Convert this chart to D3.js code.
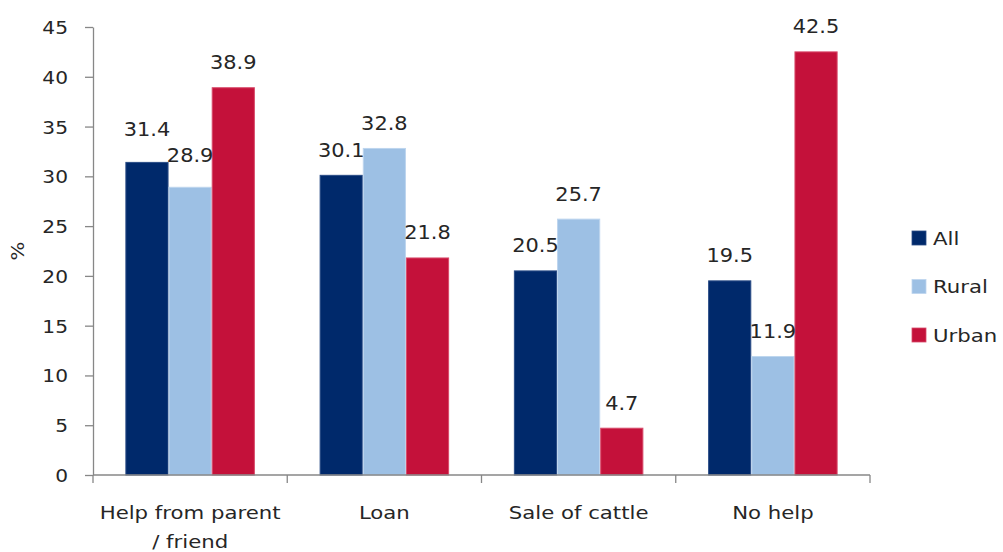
<!DOCTYPE html>
<html>
<head>
<meta charset="utf-8">
<script src="https://cdn.jsdelivr.net/npm/d3@7"></script>
<style>
  html, body { margin: 0; padding: 0; background: #fff; }
  svg { display: block; }
  text { font-family: "DejaVu Sans", Verdana, sans-serif; fill: #262626; }
</style>
</head>
<body>
<svg id="chart" width="1003" height="552"></svg>
<script>
// Source of support, % of households
const categories = ["Help from parent / friend", "Loan", "Sale of cattle", "No help"];
const categoryLines = [["Help from parent", "/ friend"], ["Loan"], ["Sale of cattle"], ["No help"]];
const series = ["All", "Rural", "Urban"];
const allValues = [31.4, 30.1, 20.5, 19.5];
const ruralValues = [28.9, 32.8, 25.7, 11.9];
const urbanValues = [38.9, 21.8, 4.7, 42.5];
const yTicks = [0, 5, 10, 15, 20, 25, 30, 35, 40, 45];

const colors = { All: "#00296b", Rural: "#9dc0e4", Urban: "#c4113a" };
const strokes = { All: "#2a4c86", Rural: "#bdd5ee", Urban: "#d84a6a" };
// labels lifted a little further so neighbouring values don't collide
const labelLift = { "Help from parent / friend|All": 8, "Help from parent / friend|Rural": 6.5 };

const valuesBySeries = { All: allValues, Rural: ruralValues, Urban: urbanValues };
const rows = categories.map((c, i) => ({
  category: c,
  values: series.map(s => ({ series: s, value: valuesBySeries[s][i] }))
}));

const svg = d3.select("#chart");

const x = d3.scaleBand().domain(categories).range([93, 870]).paddingInner(0).paddingOuter(0);
const xs = d3.scaleBand().domain(series).range([0, x.bandwidth()]).paddingInner(0).paddingOuter(0.75);
const y = d3.scaleLinear().domain([0, 45]).range([475, 27]);

// text with slightly widened lettering
function wideText(g, tx, ty, str, size, anchor, sx) {
  return g.append("text")
    .attr("transform", `translate(${tx},${ty}) scale(${sx},1)`)
    .attr("text-anchor", anchor || "middle")
    .style("font-size", size + "px")
    .text(str);
}

// bars
const groups = svg.append("g").selectAll("g").data(rows).join("g")
  .attr("transform", d => `translate(${x(d.category)},0)`);

groups.selectAll("rect").data(d => d.values).join("rect")
  .attr("x", d => xs(d.series) + 0.5)
  .attr("y", d => y(d.value))
  .attr("width", xs.bandwidth() - 1)
  .attr("height", d => y(0) - y(d.value))
  .attr("fill", d => colors[d.series])
  .attr("stroke", d => strokes[d.series])
  .attr("stroke-width", 1);

// value labels
const labels = svg.append("g");
rows.forEach(r => {
  r.values.forEach(v => {
    const lift = labelLift[r.category + "|" + v.series] || 0;
    wideText(labels, x(r.category) + xs(v.series) + xs.bandwidth() / 2,
      y(v.value) - 18.5 - lift, v.value.toFixed(1), 19, "middle", 1.1);
  });
});

// y axis
const yAxis = svg.append("g")
  .attr("transform", "translate(93,0)")
  .call(d3.axisLeft(y).tickValues(yTicks).tickSize(8).tickSizeOuter(0).tickPadding(0));
yAxis.select(".domain").attr("stroke", "#878787").attr("stroke-width", 1.3);
yAxis.selectAll(".tick line").attr("stroke", "#878787").attr("stroke-width", 1.3);
yAxis.selectAll(".tick text")
  .attr("x", null).attr("dy", null)
  .attr("transform", "translate(-25,6.5) scale(1.12,1)")
  .style("font-size", "18px")
  .style("font-family", "'DejaVu Sans', Verdana, sans-serif")
  .attr("fill", "#262626");

// x axis baseline and group dividers
const xAxis = svg.append("g");
xAxis.append("line")
  .attr("x1", x.range()[0]).attr("x2", x.range()[1])
  .attr("y1", y(0)).attr("y2", y(0))
  .attr("stroke", "#878787").attr("stroke-width", 1.3);
const bounds = categories.map(c => x(c)).concat([x.range()[1]]);
xAxis.selectAll("line.div").data(bounds).join("line")
  .attr("class", "div")
  .attr("x1", d => d).attr("x2", d => d)
  .attr("y1", y(0)).attr("y2", y(0) + 8)
  .attr("stroke", "#878787").attr("stroke-width", 1.3);

categories.forEach((c, i) => {
  categoryLines[i].forEach((line, j) => {
    wideText(xAxis, x(c) + x.bandwidth() / 2, 519 + j * 29, line, 18, "middle", 1.18);
  });
});

// y axis title
svg.append("text")
  .attr("transform", "translate(24,251) rotate(-90) scale(1.1,1)")
  .attr("text-anchor", "middle")
  .style("font-size", "18px")
  .text("%");

// legend
const legend = svg.append("g");
series.forEach((s, i) => {
  const cy = 238 + i * 48.5;
  legend.append("rect")
    .attr("x", 912).attr("y", cy - 7).attr("width", 14).attr("height", 14)
    .attr("fill", colors[s]).attr("stroke", strokes[s]).attr("stroke-width", 0.8);
  wideText(legend, 933, cy + 6.5, s, 18, "start", 1.18);
});
</script>
</body>
</html>
